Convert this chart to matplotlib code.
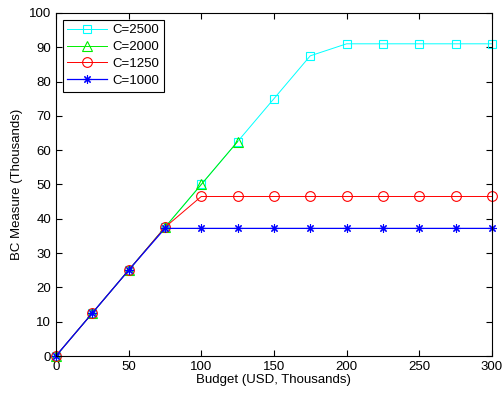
import matplotlib
matplotlib.use("Agg")
import matplotlib.pyplot as plt

plt.rcParams["font.family"] = ["Liberation Sans", "DejaVu Sans"]
plt.rcParams["font.size"] = 9.5

budget = [0, 25, 50, 75, 100, 125, 150, 175, 200, 225, 250, 275, 300]
c2500 = [0, 12.5, 25, 37.5, 50, 62.5, 75, 87.5, 91, 91, 91, 91, 91]
c2000 = [0, 12.5, 25, 37.5, 50, 62.5]
c1250 = [0, 12.5, 25, 37.5, 46.5, 46.5, 46.5, 46.5, 46.5, 46.5, 46.5, 46.5, 46.5]
c1000 = [0, 12.5, 25, 37.2, 37.2, 37.2, 37.2, 37.2, 37.2, 37.2, 37.2, 37.2, 37.2]

fig = plt.figure(figsize=(5.04, 3.98), dpi=100)
ax = fig.add_axes([0.111, 0.1055, 0.865, 0.862])

ax.plot(budget, c2500, color="cyan", marker="s", ms=6, mfc="none",
        lw=0.7, mew=0.8, label="C=2500", clip_on=False)
ax.plot(budget[:len(c2000)], c2000, color="#00ee00", marker="^", ms=7,
        mfc="none", lw=0.7, mew=0.8, label="C=2000", clip_on=False)
ax.plot(budget, c1250, color="red", marker="o", ms=7, mfc="none",
        lw=0.7, mew=0.8, label="C=1250", clip_on=False)
ax.plot(budget, c1000, color="blue", marker=(8, 2, 0), ms=6,
        lw=0.9, mew=0.8, label="C=1000", clip_on=False)

ax.set_xlim(0, 300)
ax.set_ylim(0, 100)
ax.set_xticks(range(0, 301, 50))
ax.set_yticks(range(0, 101, 10))
ax.tick_params(direction="in", top=True, right=True, length=4, width=0.8)
for s in ax.spines.values():
    s.set_linewidth(0.8)
ax.set_xlabel("Budget (USD, Thousands)", labelpad=1)
ax.set_ylabel("BC Measure (Thousands)", labelpad=4)

leg = ax.legend(loc="upper left", fancybox=False, edgecolor="black",
                framealpha=1, borderaxespad=0.5, handlelength=3.0,
                handletextpad=0.4, labelspacing=0.35, borderpad=0.35)
leg.get_frame().set_linewidth(0.8)

fig.savefig("out.png", dpi=100)
